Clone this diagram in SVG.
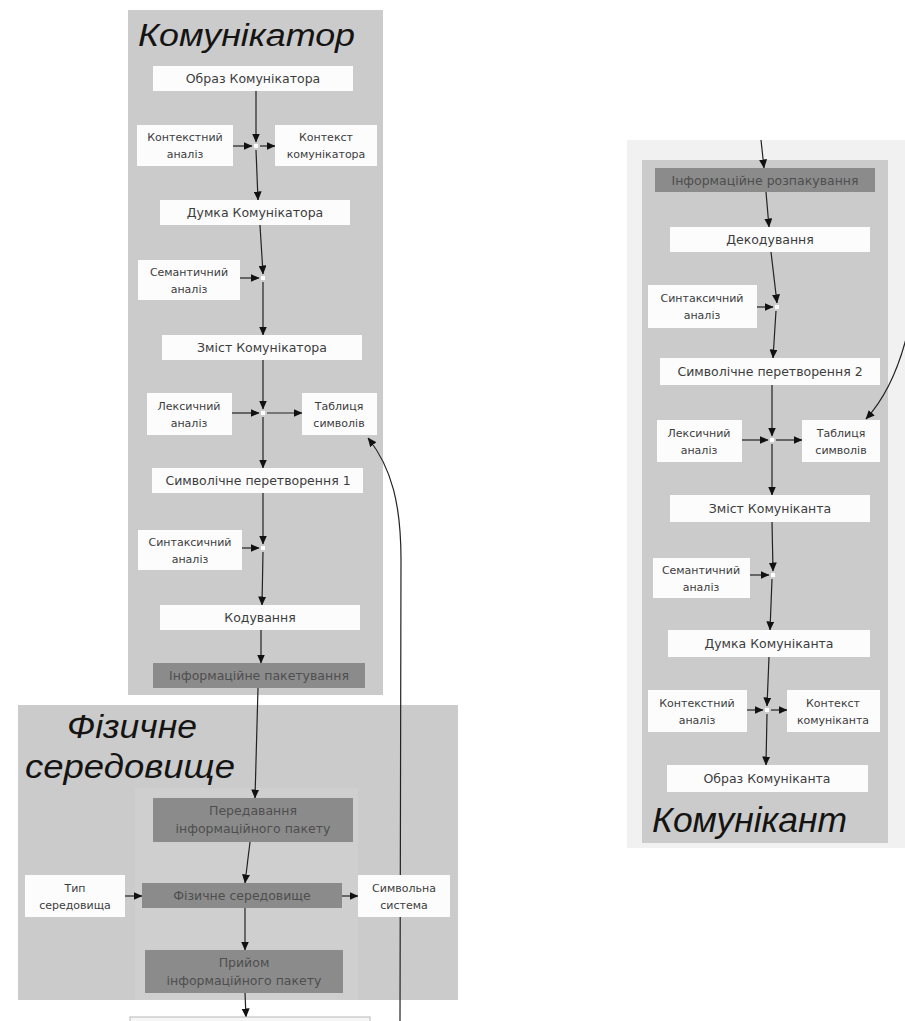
<svg xmlns="http://www.w3.org/2000/svg" width="905" height="1021" viewBox="0 0 905 1021">
<style>
.panel{fill:#cbcbcb}
.wn{fill:#fcfcfc}
.dn{fill:#8b8b8b}
.t{font-family:"DejaVu Sans",Verdana,sans-serif;font-size:12.5px;fill:#3c3c3c;text-anchor:middle}
.ts{font-family:"DejaVu Sans",Verdana,sans-serif;font-size:11px;fill:#3c3c3c;text-anchor:middle}
.td{font-family:"DejaVu Sans",Verdana,sans-serif;font-size:12.5px;fill:#4e4e4e;text-anchor:middle}
.title{font-family:"Liberation Sans",Arial,sans-serif;font-style:italic;fill:#141414}
.c{stroke:#222;stroke-width:1.2;fill:none;marker-end:url(#ah)}
.j{fill:#ffffff}
</style>
<defs>
<marker id="ah" markerWidth="9" markerHeight="8" refX="8.5" refY="4" orient="auto" markerUnits="userSpaceOnUse">
<path d="M0,0 L9,4 L0,8 z" fill="#111"/>
</marker>
</defs>
<rect x="0" y="0" width="905" height="1021" fill="#ffffff"/>

<g id="panel-komunikator">
<rect class="panel" x="128" y="10" width="255" height="685"/>
<text class="title" x="138" y="46" font-size="31" textLength="217" lengthAdjust="spacingAndGlyphs">Комунікатор</text>
</g>
<g id="panel-fizychne">
<rect class="panel" x="18" y="705" width="440" height="295" fill="#cccccc"/>
<rect x="135" y="788" width="223" height="212" fill="#cfcfcf"/>
<text class="title" x="67" y="738" font-size="33" textLength="130" lengthAdjust="spacingAndGlyphs">Фізичне</text>
<text class="title" x="25" y="778" font-size="33" textLength="210" lengthAdjust="spacingAndGlyphs">середовище</text>
</g>
<g id="panel-komunikant">
<rect x="627" y="140" width="278" height="708" fill="#f1f1f1"/>
<rect class="panel" x="642" y="160" width="246" height="683"/>
<text class="title" x="652" y="832" font-size="35" textLength="195" lengthAdjust="spacingAndGlyphs">Комунікант</text>
</g>

<g id="connectors">
<path class="c" d="M256,91 L256,142"/>
<path class="c" d="M233,146 L252,146"/>
<path class="c" d="M260,146 L275,146"/>
<path class="c" d="M256,150 L258,200"/>
<path class="c" d="M260,225 L263,274"/>
<path class="c" d="M240,278 L259,278"/>
<path class="c" d="M263,282 L263,335"/>
<path class="c" d="M263,360 L263,409"/>
<path class="c" d="M232,413 L259,413"/>
<path class="c" d="M267,413 L302,413"/>
<path class="c" d="M263,417 L263,468"/>
<path class="c" d="M263,493 L263,544"/>
<path class="c" d="M242,548 L259,548"/>
<path class="c" d="M263,552 L262,605"/>
<path class="c" d="M261,630 L261,663"/>
<path class="c" d="M258,688 L255,798"/>
<path class="c" d="M250,842 L245,883"/>
<path class="c" d="M245,908 L245,950"/>
<path class="c" d="M245,993 L246,1017"/>
<path class="c" d="M125,896 L142,896"/>
<path class="c" d="M342,896 L358,896"/>
<path class="c" d="M400,1021 L401,560 C401,505 392,468 368,438"/>

<path class="c" d="M761,140 L764,168"/>
<path class="c" d="M766,192 L769,227"/>
<path class="c" d="M771,252 L777,303"/>
<path class="c" d="M757,307 L773,307"/>
<path class="c" d="M776,311 L773,358"/>
<path class="c" d="M772,385 L772,436"/>
<path class="c" d="M742,440 L768,440"/>
<path class="c" d="M776,440 L802,440"/>
<path class="c" d="M772,444 L772,495"/>
<path class="c" d="M772,522 L773,571"/>
<path class="c" d="M750,575 L769,575"/>
<path class="c" d="M772,579 L770,630"/>
<path class="c" d="M769,657 L767,706"/>
<path class="c" d="M747,710 L763,710"/>
<path class="c" d="M771,710 L787,710"/>
<path class="c" d="M767,714 L766,765"/>
<path class="c" d="M910,322 C902,360 888,395 866,419"/>

<rect class="j" x="254" y="144" width="4" height="4"/>
<rect class="j" x="261" y="276" width="4" height="4"/>
<rect class="j" x="261" y="411" width="4" height="4"/>
<rect class="j" x="261" y="546" width="4" height="4"/>
<rect class="j" x="775" y="305" width="4" height="4"/>
<rect class="j" x="770" y="438" width="4" height="4"/>
<rect class="j" x="771" y="573" width="4" height="4"/>
<rect class="j" x="765" y="708" width="4" height="4"/>
</g>

<g id="obraz-komunikatora"><rect class="wn" x="153" y="66" width="200" height="25"/><text class="t" x="253" y="83">Образ Комунікатора</text></g>
<g id="kontekstnyi-analiz-1"><rect class="wn" x="137" y="125" width="96" height="41"/><text class="ts" x="185" y="141">Контекстний</text><text class="ts" x="185" y="158">аналіз</text></g>
<g id="kontekst-komunikatora"><rect class="wn" x="275" y="125" width="102" height="41"/><text class="ts" x="326" y="141">Контекст</text><text class="ts" x="326" y="158">комунікатора</text></g>
<g id="dumka-komunikatora"><rect class="wn" x="160" y="200" width="190" height="25"/><text class="t" x="255" y="217">Думка Комунікатора</text></g>
<g id="semantychnyi-analiz-1"><rect class="wn" x="138" y="260" width="102" height="40"/><text class="ts" x="189" y="276">Семантичний</text><text class="ts" x="189" y="293">аналіз</text></g>
<g id="zmist-komunikatora"><rect class="wn" x="162" y="335" width="200" height="25"/><text class="t" x="262" y="352">Зміст Комунікатора</text></g>
<g id="leksychnyi-analiz-1"><rect class="wn" x="147" y="393" width="85" height="42"/><text class="ts" x="189" y="410">Лексичний</text><text class="ts" x="189" y="427">аналіз</text></g>
<g id="tablytsia-symvoliv-1"><rect class="wn" x="302" y="393" width="75" height="42"/><text class="ts" x="339" y="410">Таблиця</text><text class="ts" x="339" y="427">символів</text></g>
<g id="symvolichne-1"><rect class="wn" x="152" y="468" width="211" height="25"/><text class="t" x="258" y="485">Символічне перетворення 1</text></g>
<g id="syntaksychnyi-analiz-1"><rect class="wn" x="138" y="530" width="104" height="40"/><text class="ts" x="190" y="546">Синтаксичний</text><text class="ts" x="190" y="563">аналіз</text></g>
<g id="koduvannia"><rect class="wn" x="160" y="605" width="200" height="25"/><text class="t" x="260" y="622">Кодування</text></g>
<g id="paketuvannia"><rect class="dn" x="153" y="663" width="212" height="25"/><text class="td" x="259" y="680">Інформаційне пакетування</text></g>

<g id="peredavannia"><rect class="dn" x="153" y="798" width="200" height="44"/><text class="td" x="253" y="815">Передавання</text><text class="td" x="253" y="833">інформаційного пакету</text></g>
<g id="typ-seredovyshcha"><rect class="wn" x="25" y="875" width="100" height="42"/><text class="ts" x="75" y="892">Тип</text><text class="ts" x="75" y="909">середовища</text></g>
<g id="fizychne-seredovyshche"><rect class="dn" x="142" y="883" width="200" height="25"/><text class="td" x="242" y="900">Фізичне середовище</text></g>
<g id="symvolna-systema"><rect class="wn" x="358" y="875" width="92" height="42"/><text class="ts" x="404" y="892">Символьна</text><text class="ts" x="404" y="909">система</text></g>
<g id="pryiom"><rect class="dn" x="145" y="950" width="198" height="43"/><text class="td" x="244" y="967">Прийом</text><text class="td" x="244" y="985">інформаційного пакету</text></g>
<g id="next-node"><rect x="130" y="1017" width="240" height="10" fill="#f6f6f6" stroke="#b8b8b8" stroke-width="1"/></g>

<g id="rozpakuvannia"><rect class="dn" x="655" y="168" width="220" height="24"/><text class="td" x="765" y="185">Інформаційне розпакування</text></g>
<g id="dekoduvannia"><rect class="wn" x="670" y="227" width="200" height="25"/><text class="t" x="770" y="244">Декодування</text></g>
<g id="syntaksychnyi-analiz-2"><rect class="wn" x="648" y="285" width="109" height="43"/><text class="ts" x="702" y="302">Синтаксичний</text><text class="ts" x="702" y="319">аналіз</text></g>
<g id="symvolichne-2"><rect class="wn" x="660" y="358" width="220" height="27"/><text class="t" x="770" y="376">Символічне перетворення 2</text></g>
<g id="leksychnyi-analiz-2"><rect class="wn" x="657" y="420" width="85" height="42"/><text class="ts" x="699" y="437">Лексичний</text><text class="ts" x="699" y="454">аналіз</text></g>
<g id="tablytsia-symvoliv-2"><rect class="wn" x="802" y="420" width="78" height="42"/><text class="ts" x="841" y="437">Таблиця</text><text class="ts" x="841" y="454">символів</text></g>
<g id="zmist-komunikanta"><rect class="wn" x="670" y="495" width="200" height="27"/><text class="t" x="770" y="513">Зміст Комуніканта</text></g>
<g id="semantychnyi-analiz-2"><rect class="wn" x="653" y="558" width="97" height="40"/><text class="ts" x="701" y="574">Семантичний</text><text class="ts" x="701" y="591">аналіз</text></g>
<g id="dumka-komunikanta"><rect class="wn" x="668" y="630" width="202" height="27"/><text class="t" x="769" y="648">Думка Комуніканта</text></g>
<g id="kontekstnyi-analiz-2"><rect class="wn" x="648" y="690" width="99" height="42"/><text class="ts" x="697" y="707">Контекстний</text><text class="ts" x="697" y="724">аналіз</text></g>
<g id="kontekst-komunikanta"><rect class="wn" x="787" y="690" width="93" height="42"/><text class="ts" x="833" y="707">Контекст</text><text class="ts" x="833" y="724">комуніканта</text></g>
<g id="obraz-komunikanta"><rect class="wn" x="667" y="765" width="201" height="27"/><text class="t" x="767" y="783">Образ Комуніканта</text></g>
</svg>
